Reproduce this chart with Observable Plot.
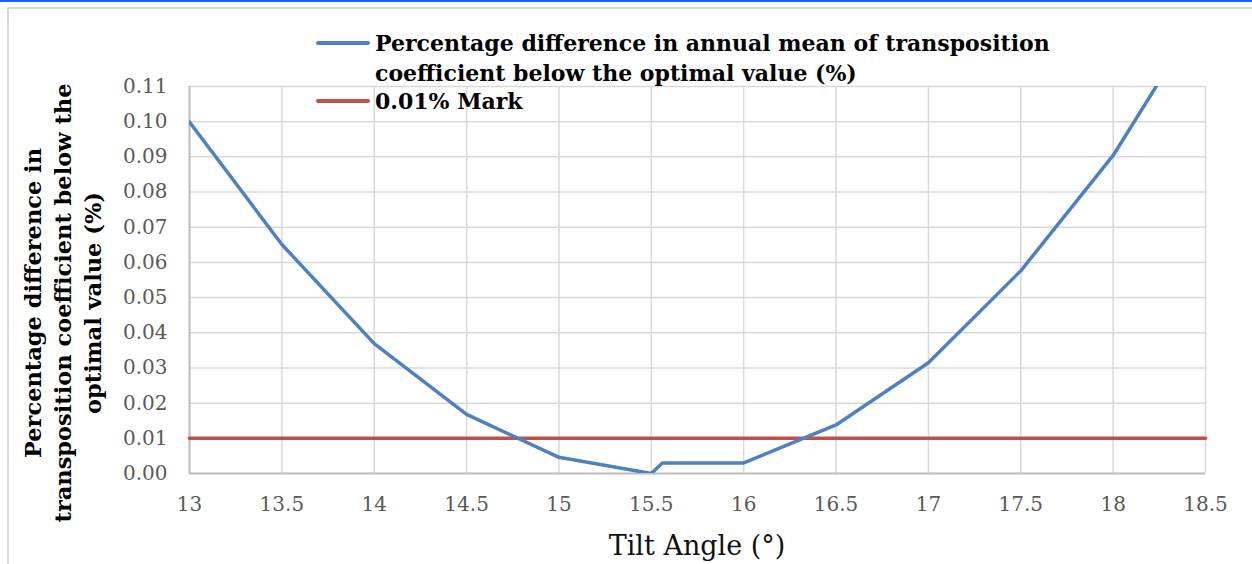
<!DOCTYPE html>
<html><head><meta charset="utf-8">
<script src="https://cdn.jsdelivr.net/npm/d3@7"></script>
<script src="https://cdn.jsdelivr.net/npm/@observablehq/plot@0.6"></script>
<style>
body{margin:0;background:#fff;}
#wrap{position:relative;width:1252px;height:564px;overflow:hidden;font-family:"DejaVu Serif",serif;background:#fff;}
#wrap svg{position:absolute;left:0;top:0;}
.topline{position:absolute;left:0;top:0;width:1252px;height:2px;background:#1466f5;}
.frame{position:absolute;left:7px;top:7px;width:1300px;height:600px;border:2px solid #d9d9d9;box-sizing:border-box;}
.sw{position:absolute;height:4px;border-radius:2px;}
.leg{position:absolute;font-weight:bold;font-size:22px;line-height:30px;color:#000;white-space:nowrap;}
.ytitle{position:absolute;width:480px;height:90px;left:-177px;top:258px;text-align:center;font-weight:bold;font-size:22.5px;line-height:30px;color:#000;transform:rotate(-90deg);transform-origin:center;white-space:nowrap;}
.xtitle{position:absolute;left:497px;width:400px;top:528px;text-align:center;font-size:27px;line-height:36px;color:#111;}
</style></head><body>
<div id="wrap">
  <div class="topline"></div>
  <div class="frame"></div>
</div>
<script>
// Data
const tiltAngles = [13, 13.5, 14, 14.5, 15, 15.5, 15.56, 16, 16.5, 17, 17.5, 18, 18.5];
const pctDifference = [0.0999, 0.0651, 0.0369, 0.0168, 0.0046, 0.0000, 0.0030, 0.0030, 0.0138, 0.0315, 0.0576, 0.0904, 0.1325];
const markAngles = [13, 18.5];
const markValues = [0.01, 0.01];
const xTicks = [13, 13.5, 14, 14.5, 15, 15.5, 16, 16.5, 17, 17.5, 18, 18.5];
const yTicks = [0, 0.01, 0.02, 0.03, 0.04, 0.05, 0.06, 0.07, 0.08, 0.09, 0.10, 0.11];
const seriesName = "Percentage difference in annual mean of transposition coefficient below the optimal value (%)";
const markName = "0.01% Mark";
const yTitleLines = ["Percentage difference in", "transposition coefficient below the", "optimal value (%)"];
const xTitle = "Tilt Angle (°)";

const curve = tiltAngles.map((x, i) => ({x, y: pctDifference[i]}));
const mark = markAngles.map((x, i) => ({x, y: markValues[i]}));

const chart = Plot.plot({
  width: 1252, height: 564,
  marginLeft: 189, marginRight: 47, marginTop: 86, marginBottom: 91,
  style: {fontFamily: '"DejaVu Serif", serif', fontSize: "20px", color: "#595959", background: "transparent", overflow: "visible"},
  x: {domain: [13, 18.5]},
  y: {domain: [0, 0.11]},
  marks: [
    Plot.gridX(xTicks, {stroke: "#d9d9d9", strokeOpacity: 1, strokeWidth: 1.5}),
    Plot.gridY(yTicks, {stroke: "#d9d9d9", strokeOpacity: 1, strokeWidth: 1.5}),
    Plot.ruleX([13], {stroke: "#bfbfbf", strokeWidth: 2}),
    Plot.ruleY([0], {stroke: "#bfbfbf", strokeWidth: 2}),
    Plot.axisX({ticks: xTicks, tickSize: 0, tickPadding: 23, tickFormat: d => String(d), label: null, fill: "#595959", fontSize: 20}),
    Plot.axisY({ticks: yTicks, tickSize: 0, tickPadding: 22, tickFormat: d3.format(".2f"), label: null, fill: "#595959", fontSize: 20}),
    Plot.line(mark, {x: "x", y: "y", stroke: "#c0504d", strokeWidth: 3.5}),
    Plot.line(curve, {x: "x", y: "y", stroke: "#4f81bd", strokeWidth: 3.5, clip: true, strokeLinejoin: "round"})
  ]
});
const wrap = document.getElementById("wrap");
wrap.appendChild(chart);

function add(cls, css, html) {
  const d = document.createElement("div");
  d.className = cls;
  Object.assign(d.style, css);
  if (html != null) d.innerHTML = html;
  wrap.appendChild(d);
  return d;
}
add("sw", {left: "316px", top: "41px", width: "54px", background: "#4f81bd"});
add("leg", {left: "375px", top: "28px"}, "Percentage difference in annual mean of transposition<br>coefficient below the optimal value (%)");
add("sw", {left: "316px", top: "99px", width: "54px", background: "#c0504d"});
add("leg", {left: "375px", top: "86px"}, markName);
add("ytitle", {}, yTitleLines.join("<br>"));
add("xtitle", {}, xTitle);
</script>
</body></html>
